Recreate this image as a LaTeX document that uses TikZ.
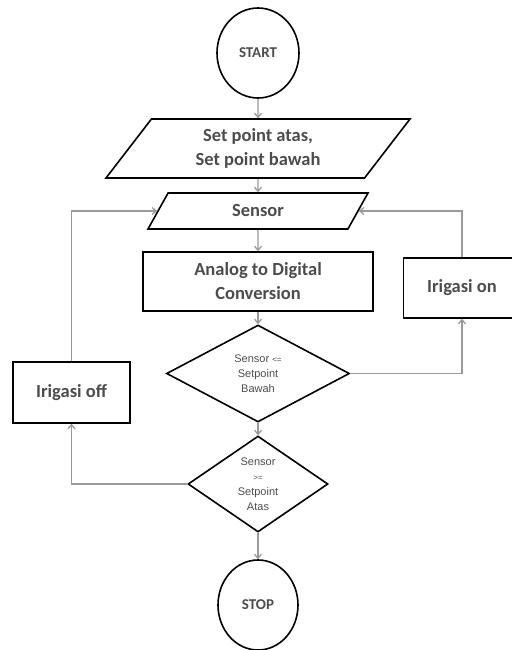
\documentclass[tikz,border=0pt]{standalone}
\usepackage{fontspec}
\setmainfont{Carlito}
\newfontfamily\smallfont{Liberation Sans}
\usepackage{xcolor}
\usetikzlibrary{shapes.geometric, arrows.meta, positioning}

\tikzset{
  base/.style={draw=black, line width=1.6pt, text=black!70, align=center, inner sep=2pt},
  terminal/.style={base, ellipse, minimum width=82pt, minimum height=90pt, font=\bfseries\fontsize{15}{17}\selectfont},
  io/.style={base, trapezium, trapezium stretches body, font=\bfseries\fontsize{18.5}{24}\selectfont},
  process/.style={base, rectangle, font=\bfseries\fontsize{18.5}{24}\selectfont},
  decision/.style={base, diamond, inner sep=0pt, font=\smallfont\fontsize{11}{15}\selectfont},
  flow/.style={->, draw=black!40, line width=1.3pt}
}

\begin{document}
\begin{tikzpicture}[x=1pt, y=-1pt, >={Straight Barb[length=4pt, width=7pt]}]
    \useasboundingbox (0,0) rectangle (511,650);

    % Start and inputs
    \node[terminal] (start) at (258,53) {START};
    \node[io, trapezium left angle=44, trapezium right angle=136,
          minimum width=304pt, minimum height=59pt] (setpoint) at (258,148.5)
          {Set point atas,\\Set point bawah};
    \node[io, trapezium left angle=39, trapezium right angle=141,
          minimum width=220pt, minimum height=36pt] (sensor) at (258,211) {Sensor};

    % Conversion and checks
    \node[process, minimum width=230pt, minimum height=59pt] (adc) at (258,281.5)
          {Analog to Digital\\Conversion};
    \node[decision, minimum width=183pt, minimum height=97pt] (low) at (258,373.5)
          {Sensor {\fontsize{8}{15}\selectfont<=}\\Setpoint\\Bawah};
    \node[decision, minimum width=140pt, minimum height=96pt] (high) at (258,484)
          {Sensor\\{\fontsize{8}{15}\selectfont>=}\\Setpoint\\Atas};
    \node[terminal, minimum width=80pt] (stop) at (258,605) {STOP};

    % Irrigation boxes
    \node[process, minimum width=117pt, minimum height=60pt] (on) at (462,288) {Irigasi on};
    \node[process, minimum width=117pt, minimum height=61pt] (off) at (71.5,392.5) {Irigasi off};

    % Main flow
    \draw[flow] (start) -- (setpoint);
    \draw[flow] (setpoint) -- (sensor);
    \draw[flow] (sensor) -- (adc);
    \draw[flow] (adc) -- (low);
    \draw[flow] (low) -- (high);
    \draw[flow] (high) -- (stop);

    % Loops back to sensor
    \draw[flow] (low.east) -| (on.south);
    \draw[flow] (on.north) |- (sensor.right side);
    \draw[flow] (high.west) -| (off.south);
    \draw[flow] (off.north) |- (sensor.left side);
\end{tikzpicture}
\end{document}
